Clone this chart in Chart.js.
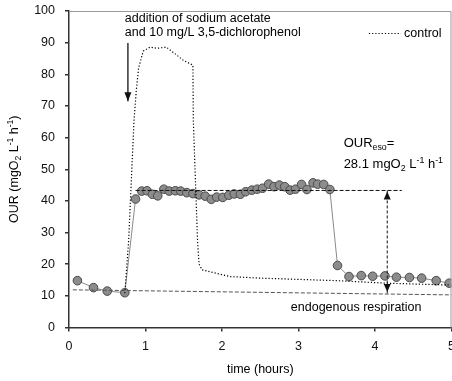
<!DOCTYPE html>
<html>
<head>
<meta charset="utf-8">
<script src="https://cdn.jsdelivr.net/npm/chart.js@4.4.1/dist/chart.umd.min.js"></script>
<style>
  html, body { margin: 0; padding: 0; background: #fff; }
  canvas { display: block; }
</style>
</head>
<body>
<canvas id="ourChart" width="452" height="381"></canvas>
<script>
// inhibited run (sodium acetate + 3,5-dichlorophenol)
var timeInhib = [0.11, 0.32, 0.50, 0.73, 0.87, 0.95, 1.02, 1.09, 1.16, 1.24, 1.31, 1.39, 1.46, 1.54,
    1.62, 1.70, 1.78, 1.86, 1.93, 2.01, 2.09, 2.16, 2.24, 2.31, 2.39, 2.46, 2.53, 2.61, 2.68, 2.75,
    2.82, 2.89, 2.96, 3.04, 3.11, 3.19, 3.25, 3.33, 3.41, 3.51, 3.66, 3.82, 3.97, 4.13, 4.28, 4.45,
    4.61, 4.80, 4.97];
var ourInhib = [14.8, 12.6, 11.5, 11.0, 40.6, 43.1, 43.2, 42.1, 41.6, 43.7, 43.1, 43.2, 43.1, 42.6,
    42.3, 41.9, 41.5, 40.5, 41.2, 41.1, 41.8, 42.2, 42.1, 42.9, 43.4, 43.7, 44.0, 45.3, 44.5, 45.0,
    44.5, 43.4, 43.7, 45.2, 43.6, 45.7, 45.3, 45.2, 43.6, 19.6, 16.1, 16.4, 16.2, 16.3, 15.9, 15.8,
    15.6, 14.8, 14.0];

// control run (sodium acetate only)
var timeControl = [0.73, 0.78, 0.85, 0.88, 0.91, 0.97, 1.06, 1.15, 1.27, 1.38, 1.49, 1.62, 1.625,
    1.68, 1.70, 1.74, 2.10, 2.50, 3.00, 3.50, 4.15, 5.00];
var ourControl = [10.8, 27.6, 65.5, 75.0, 82.0, 87.3, 88.6, 88.2, 88.6, 86.6, 84.5, 82.9, 65.5,
    27.6, 20.0, 18.2, 16.1, 15.6, 15.2, 14.8, 14.0, 13.4];

// endogenous respiration baseline
var timeEndo = [0.05, 5.0];
var ourEndo = [11.9, 10.3];

// plateau level and the moment of addition
var esoLevel = 43.3;
var esoLevelTime = [0.87, 4.35];
var esoArrowTime = 4.16;
var esoValue = 28.1;
var additionTime = 0.77;
var additionArrow = [89.9, 71.5];

var xTicks = [0, 1, 2, 3, 4, 5];
var yTicks = [0, 10, 20, 30, 40, 50, 60, 70, 80, 90, 100];

var FONT = "'Liberation Sans', Arial, sans-serif";
var FS = 12.5;

function pts(xs, ys) {
    return xs.map(function (x, i) { return { x: x, y: ys[i] }; });
}

function endoAt(t) {
    var k = (t - timeEndo[0]) / (timeEndo[1] - timeEndo[0]);
    return ourEndo[0] + k * (ourEndo[1] - ourEndo[0]);
}

// text with sub/superscript pieces: [text, 'sub' | 'sup' | '']
function richWidth(ctx, parts, size) {
    var w = 0;
    parts.forEach(function (p) {
        var s = p[1] ? size * 0.68 : size;
        ctx.font = s + 'px ' + FONT;
        w += ctx.measureText(p[0]).width;
    });
    return w;
}

function drawRich(ctx, parts, x, y, size) {
    ctx.textBaseline = 'alphabetic';
    ctx.textAlign = 'left';
    parts.forEach(function (p) {
        var s = p[1] ? size * 0.68 : size;
        var dy = p[1] === 'sub' ? size * 0.25 : (p[1] === 'sup' ? -size * 0.4 : 0);
        ctx.font = s + 'px ' + FONT;
        ctx.fillText(p[0], x, y + dy);
        x += ctx.measureText(p[0]).width;
    });
}

function arrowHead(ctx, x, y, dir, w, h) {
    ctx.beginPath();
    ctx.moveTo(x, y);
    ctx.lineTo(x - w / 2, y + dir * h);
    ctx.lineTo(x + w / 2, y + dir * h);
    ctx.closePath();
    ctx.fill();
}

var annotations = {
    id: 'annotations',
    afterDatasetsDraw: function (chart) {
        var ctx = chart.ctx;
        var xs = chart.scales.x, ys = chart.scales.y;
        var area = chart.chartArea;
        ctx.save();

        // frame on top and right
        ctx.strokeStyle = '#9a9a9a';
        ctx.lineWidth = 1;
        ctx.beginPath();
        ctx.moveTo(area.left, area.top + 0.5);
        ctx.lineTo(area.right - 0.5, area.top + 0.5);
        ctx.lineTo(area.right - 0.5, area.bottom);
        ctx.stroke();

        ctx.fillStyle = '#111';
        // addition arrow head
        arrowHead(ctx, xs.getPixelForValue(additionTime), ys.getPixelForValue(additionArrow[1]), -1, 7, 9);

        // OUR_eso span arrows
        var ax = xs.getPixelForValue(esoArrowTime);
        arrowHead(ctx, ax, ys.getPixelForValue(esoLevel) + 1, 1, 7, 8);
        arrowHead(ctx, ax, ys.getPixelForValue(endoAt(esoArrowTime)) - 2, -1, 7, 8);

        // text labels
        ctx.fillStyle = '#000';
        ctx.font = FS + 'px ' + FONT;
        ctx.textBaseline = 'middle';
        ctx.textAlign = 'left';
        ctx.fillText('addition of sodium acetate', xs.getPixelForValue(0.73), ys.getPixelForValue(97.7));
        ctx.fillText('and 10 mg/L 3,5-dichlorophenol', xs.getPixelForValue(0.73), ys.getPixelForValue(93.3));
        ctx.fillText('endogenous respiration', xs.getPixelForValue(2.90), ys.getPixelForValue(6.4));

        // legend
        var ly = Math.round(ys.getPixelForValue(93.0)) + 0.5;
        ctx.strokeStyle = '#000';
        ctx.lineWidth = 1.2;
        ctx.setLineDash([1.2, 2]);
        ctx.beginPath();
        ctx.moveTo(xs.getPixelForValue(3.92), ly);
        ctx.lineTo(xs.getPixelForValue(4.34), ly);
        ctx.stroke();
        ctx.setLineDash([]);
        ctx.fillText('control', xs.getPixelForValue(4.38), ly);

        // OUR_eso label
        var lx = xs.getPixelForValue(3.59);
        var FL = 13;
        drawRich(ctx, [['OUR', ''], ['eso', 'sub'], ['=', '']], lx, ys.getPixelForValue(58.5) + 4.5, FL);
        drawRich(ctx, [[esoValue.toFixed(1) + ' mgO', ''], ['2', 'sub'], [' L', ''], ['-1', 'sup'],
            [' h', ''], ['-1', 'sup']], lx, ys.getPixelForValue(51.9) + 4.5, FL);

        // axis titles
        ctx.font = FS + 'px ' + FONT;
        ctx.textAlign = 'center';
        ctx.textBaseline = 'middle';
        ctx.fillText('time (hours)', (area.left + area.right) / 2, area.bottom + 42.3);

        var yTitle = [['OUR (mgO', ''], ['2', 'sub'], [' L', ''], ['-1', 'sup'], [' h', ''], ['-1', 'sup'], [')', '']];
        var tw = richWidth(ctx, yTitle, FS);
        ctx.translate(area.left - 51.5, (area.top + area.bottom) / 2);
        ctx.rotate(-Math.PI / 2);
        drawRich(ctx, yTitle, -tw / 2, 0, FS);

        ctx.restore();
    }
};

new Chart(document.getElementById('ourChart'), {
    type: 'line',
    data: {
        datasets: [
            {
                label: 'control',
                data: pts(timeControl, ourControl),
                borderColor: '#000',
                borderWidth: 1.2,
                borderDash: [1.2, 2],
                pointRadius: 0,
                tension: 0
            },
            {
                label: 'endogenous',
                data: pts(timeEndo, ourEndo),
                borderColor: '#555',
                borderWidth: 1,
                borderDash: [4, 2],
                pointRadius: 0
            },
            {
                label: 'eso level',
                data: pts(esoLevelTime, [esoLevel, esoLevel]),
                borderColor: '#111',
                borderWidth: 1,
                borderDash: [4, 2],
                pointRadius: 0
            },
            {
                label: 'eso span',
                data: pts([esoArrowTime, esoArrowTime], [esoLevel, endoAt(esoArrowTime)]),
                borderColor: '#111',
                borderWidth: 1,
                borderDash: [3, 2],
                pointRadius: 0
            },
            {
                label: 'addition',
                data: pts([additionTime, additionTime], additionArrow),
                borderColor: '#333',
                borderWidth: 1.5,
                pointRadius: 0
            },
            {
                label: 'inhibited',
                data: pts(timeInhib, ourInhib),
                borderColor: '#8a8a8a',
                borderWidth: 1,
                pointRadius: 4.3,
                pointBackgroundColor: '#8c8c8c',
                pointBorderColor: '#4a4a4a',
                pointBorderWidth: 1,
                tension: 0
            }
        ]
    },
    options: {
        responsive: false,
        devicePixelRatio: 1,
        animation: false,
        layout: { autoPadding: false, padding: { top: 11, right: 0.5, left: 0, bottom: 0 } },
        plugins: { legend: { display: false }, tooltip: { enabled: false } },
        scales: {
            x: {
                type: 'linear',
                min: 0,
                max: 5,
                afterBuildTicks: function (s) { s.ticks = xTicks.map(function (v) { return { value: v }; }); },
                ticks: { color: '#111', font: { family: FONT, size: FS }, padding: 8, maxRotation: 0 },
                grid: { drawOnChartArea: false, tickLength: 4, color: '#333', lineWidth: 1.5 },
                border: { color: '#333', width: 1.5 },
                afterFit: function (s) { s.height = 53.5; s.paddingLeft = 0; s.paddingRight = 0; }
            },
            y: {
                min: 0,
                max: 100,
                afterBuildTicks: function (s) { s.ticks = yTicks.map(function (v) { return { value: v }; }); },
                ticks: { color: '#111', font: { family: FONT, size: FS }, padding: 10 },
                grid: { drawOnChartArea: false, tickLength: 4, color: '#333', lineWidth: 1.5 },
                border: { color: '#333', width: 1.5 },
                afterFit: function (s) { s.width = 69; s.paddingTop = 0; s.paddingBottom = 0; }
            }
        }
    },
    plugins: [annotations]
});
</script>
</body>
</html>
